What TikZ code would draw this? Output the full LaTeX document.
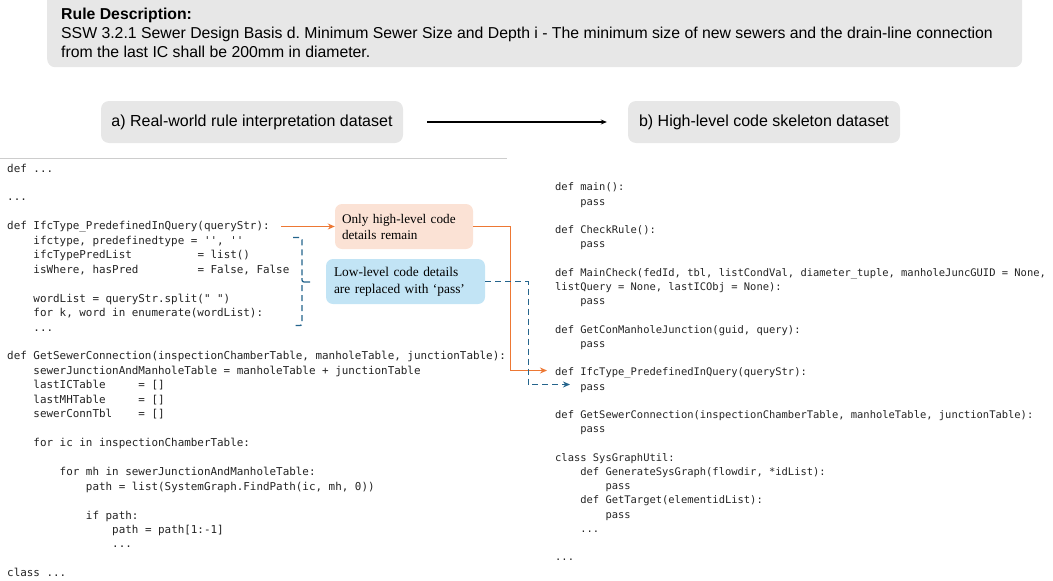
\documentclass[tikz,border=0pt]{standalone}
\usepackage{fontspec}
\setmainfont{Liberation Sans}
\setmonofont{DejaVu Sans Mono}
\newfontfamily\boxserif{Liberation Serif}
\usetikzlibrary{arrows.meta,calc}
\definecolor{boxgray}{RGB}{231,231,231}
\definecolor{peach}{RGB}{251,226,213}
\definecolor{skyb}{RGB}{194,228,245}
\definecolor{orng}{RGB}{237,120,52}
\definecolor{dblue}{RGB}{36,100,140}
\definecolor{codec}{RGB}{35,35,35}
\definecolor{divider}{RGB}{205,205,205}
\frenchspacing
\newcommand{\ind}[1]{\hspace*{#1\fontcharwd\font`a}}
\begin{document}
\begin{tikzpicture}[x=1pt,y=-1pt,
  graybox/.style={fill=boxgray, rounded corners=8pt, inner sep=0pt},
  peachbox/.style={fill=peach, rounded corners=7pt, minimum height=45pt, text width=124pt, inner xsep=7pt, inner ysep=0pt, align=left, font=\boxserif\fontsize{13.2}{16}\selectfont},
  skybox/.style={fill=skyb, rounded corners=7pt, minimum height=45pt, text width=143pt, inner xsep=8pt, inner ysep=0pt, align=left, font=\boxserif\fontsize{13.4}{17}\selectfont},
  codeleft/.style={anchor=north west, inner sep=0pt, align=left, text=codec, font=\ttfamily\fontsize{10.9}{14.46}\selectfont},
  coderight/.style={anchor=north west, inner sep=0pt, align=left, text=codec, font=\ttfamily\fontsize{10.45}{14.23}\selectfont},
  oline/.style={draw=orng, line width=1.3pt, -{Stealth[length=7pt,width=6pt]}},
  bline/.style={draw=dblue, line width=1.3pt, dash pattern=on 6pt off 4pt},
  barrow/.style={bline, -{Stealth[length=7pt,width=6pt]}}
]
\useasboundingbox (0,0) rectangle (1053,581);

% rule description
\node[graybox, anchor=north west, minimum width=975pt, minimum height=87pt] (rulebox) at (47,-20) {};
\node[anchor=north west, inner sep=0pt, align=left, font=\fontsize{15.8}{19}\selectfont] (ruletext) at (61,7)
  {\rule{0pt}{12pt}\textbf{Rule Description:}\\
   SSW 3.2.1 Sewer Design Basis d. Minimum Sewer Size and Depth i - The minimum size of new sewers and the drain-line connection\\
   from the last IC shall be 200mm in diameter.};

% dataset headers
\node[graybox, minimum width=302pt, minimum height=42pt, font=\fontsize{16}{19}\selectfont] (adata) at (252,122) {a) Real-world rule interpretation dataset};
\node[graybox, minimum width=272pt, minimum height=42pt, font=\fontsize{16}{19}\selectfont] (bdata) at (764,122) {b) High-level code skeleton dataset};
\draw[black, line width=1.1pt, -{Stealth[length=6pt,width=5pt]}] ([xshift=24pt]adata.east) -- ([xshift=-21pt]bdata.west);

\draw[divider, line width=0.8pt] (0,158) -- (507,158);

% left code
\node[codeleft] (leftcode) at (7,161.8) {\rule{0pt}{10pt}def ...\\
\\
...\\
\\
def IfcType\_PredefinedInQuery(queryStr):\\
\ind{4}ifctype, predefinedtype = '', ''\\
\ind{4}ifcTypePredList\ind{10}= list()\\
\ind{4}isWhere, hasPred\ind{9}= False, False\\
\\
\ind{4}wordList = queryStr.split(" ")\\
\ind{4}for k, word in enumerate(wordList):\\
\ind{4}...\\
\\
def GetSewerConnection(inspectionChamberTable, manholeTable, junctionTable):\\
\ind{4}sewerJunctionAndManholeTable = manholeTable + junctionTable\\
\ind{4}lastICTable\ind{5}= []\\
\ind{4}lastMHTable\ind{5}= []\\
\ind{4}sewerConnTbl\ind{4}= []\\
\\
\ind{4}for ic in inspectionChamberTable:\\
\\
\ind{8}for mh in sewerJunctionAndManholeTable:\\
\ind{12}path = list(SystemGraph.FindPath(ic, mh, 0))\\
\\
\ind{12}if path:\\
\ind{16}path = path[1:-1]\\
\ind{16}...\\
\\
class ...};

% right code
\node[coderight] (rightcode) at (555,180.7) {\rule{0pt}{10pt}def main():\\
\ind{4}pass\\
\\
def CheckRule():\\
\ind{4}pass\\
\\
def MainCheck(fedId, tbl, listCondVal, diameter\_tuple, manholeJuncGUID = None,\\
listQuery = None, lastICObj = None):\\
\ind{4}pass\\
\\
def GetConManholeJunction(guid, query):\\
\ind{4}pass\\
\\
def IfcType\_PredefinedInQuery(queryStr):\\
\ind{4}pass\\
\\
def GetSewerConnection(inspectionChamberTable, manholeTable, junctionTable):\\
\ind{4}pass\\
\\
class SysGraphUtil:\\
\ind{4}def GenerateSysGraph(flowdir, *idList):\\
\ind{8}pass\\
\ind{4}def GetTarget(elementidList):\\
\ind{8}pass\\
\ind{4}...\\
\\
...};

% annotation boxes
\node[peachbox] (highlevel) at (404,226.5) {Only high-level code\\details remain};
\node[skybox] (lowlevel) at (405.5,281.5) {Low-level code details\\are replaced with ‘pass’};

% connectors
\coordinate (ifcend) at (281,226.5);
\coordinate (ifcright) at (547,370.5);
\coordinate (passright) at (570,384.5);
\draw[oline] (ifcend) -- (highlevel.west);
\draw[oline] (highlevel.east) -- ++(37,0) |- (ifcright);
\draw[bline, rounded corners=2pt] (293,237.5) -| (302,279);
\draw[bline, rounded corners=2pt] (302,285) |- (293,325.5);
\draw[draw=dblue, line width=1.3pt, rounded corners=2pt] (302,278) -- (302,282) -- (310,282);
\draw[barrow] (lowlevel.east) -- ++(43,0) |- (passright);
\end{tikzpicture}
\end{document}
